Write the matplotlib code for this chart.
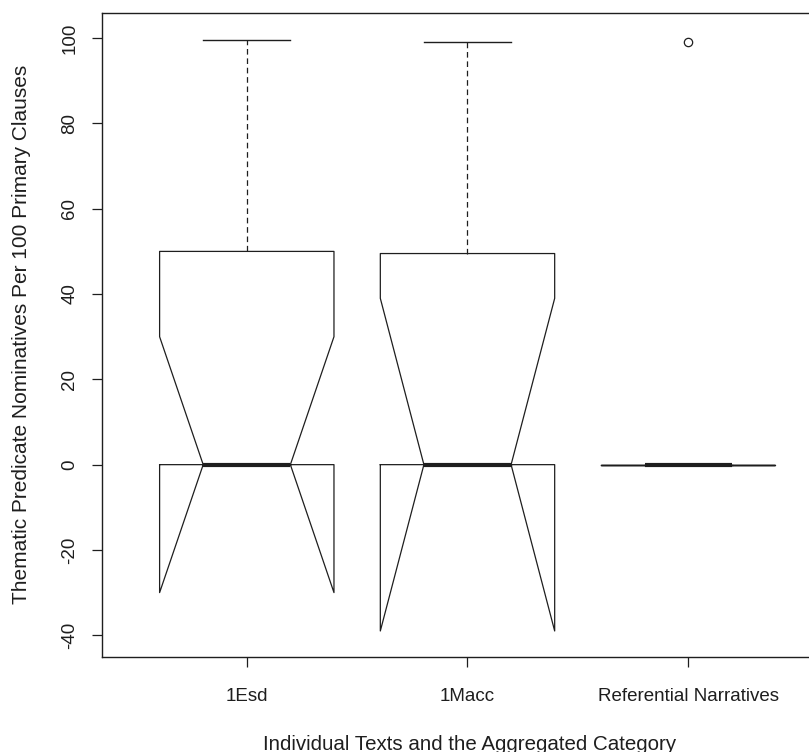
import matplotlib
matplotlib.use("Agg")
import matplotlib.pyplot as plt

# five-number summaries
labels = ["1Esd", "1Macc", "Referential Narratives"]
whislo = [0, 0, 0]
q1 = [0, 0, 0]
med = [0, 0, 0]
q3 = [50, 49.5, 0]
whishi = [99.5, 99, 0]
cilo = [-30, -39, 0]
cihi = [30, 39, 0]
fliers = [[], [], [99]]
yticks = [-40, -20, 0, 20, 40, 60, 80, 100]

plt.rcParams['font.family'] = ['Liberation Sans', 'DejaVu Sans']
ink = '#1e1e1e'

fig = plt.figure(figsize=(8.09, 7.52), dpi=100)
ax = fig.add_axes([102 / 809, 1 - 657 / 752, (833 - 102) / 809, (657 - 13) / 752])

stats = []
for i in range(len(labels)):
    stats.append(dict(label=labels[i], whislo=whislo[i], q1=q1[i], med=med[i],
                      q3=q3[i], whishi=whishi[i], cilo=cilo[i], cihi=cihi[i],
                      fliers=fliers[i]))

ax.bxp(stats, positions=[1, 2, 3], widths=0.79, shownotches=True,
       boxprops=dict(color=ink, linewidth=0.9),
       whiskerprops=dict(color=ink, linewidth=0.9, linestyle=(0, (4.5, 3))),
       capprops=dict(color=ink, linewidth=1.0),
       medianprops=dict(color=ink, linewidth=3.0, solid_capstyle='butt'),
       flierprops=dict(marker='o', markersize=6, markerfacecolor='none',
                       markeredgecolor=ink, markeredgewidth=0.9))

ax.set_xlim(0.344, 3.656)
ax.set_ylim(-45.1, 105.9)
ax.set_yticks(yticks)
ax.set_yticklabels([str(v) for v in yticks], rotation=90, va='center')
ax.tick_params(axis='both', length=7, width=0.9, color=ink, labelcolor=ink,
               labelsize=13.5)
ax.tick_params(axis='y', pad=10)
ax.tick_params(axis='x', pad=15)
for s in ax.spines.values():
    s.set_color(ink)
    s.set_linewidth(1.0)

fig.text(22 / 809, 1 - 334 / 752, "Thematic Predicate Nominatives Per 100 Primary Clauses",
         rotation=90, ha='center', va='center', fontsize=15, color=ink)
fig.text(470 / 809, 1 - 744 / 752, "Individual Texts and the Aggregated Category",
         ha='center', va='center', fontsize=14.8, color=ink)

fig.savefig("out.png", dpi=100)
